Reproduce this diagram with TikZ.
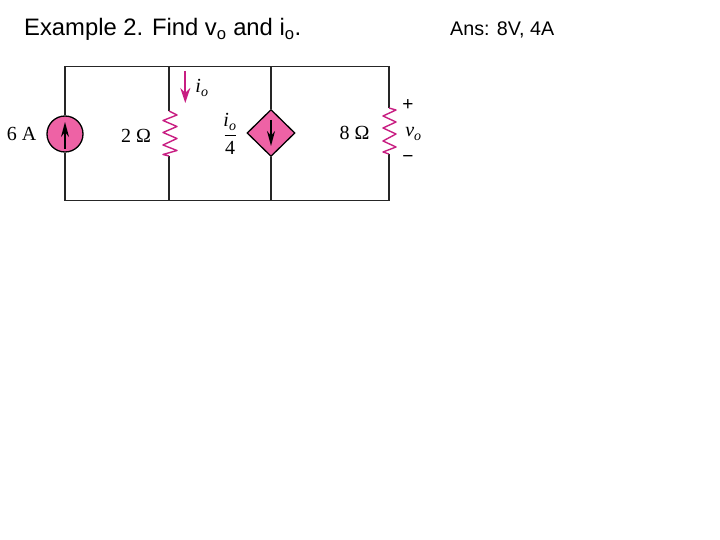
\documentclass[tikz,border=0pt]{standalone}
\usepackage{fontspec}
\setmainfont{Liberation Sans}
\newfontfamily\bookfont{Liberation Serif}
\usetikzlibrary{arrows.meta,shapes.geometric}
\definecolor{srcpink}{RGB}{238,98,165}
\definecolor{respink}{RGB}{200,30,130}
\tikzset{
    wire/.style={line width=1.3pt,black!85},
    res/.style={line width=1.4pt,respink,line join=round},
    src/.style={draw=black,line width=1.3pt,fill=srcpink,inner sep=0pt},
    srcarrow/.style={line width=1.6pt,black,-{Stealth[length=15pt,width=8pt]}},
    lbl/.style={inner sep=0pt,font=\bookfont\fontsize{20}{22}\selectfont},
    sublbl/.style={inner sep=0pt,font=\bookfont\itshape\fontsize{20}{22}\selectfont},
    sign/.style={inner sep=0pt,font=\fontsize{19}{21}\selectfont},
    title/.style={inner sep=0pt,anchor=base west}
}
\begin{document}
\begin{tikzpicture}[x=1pt,y=-1pt]
    \useasboundingbox (0,0) rectangle (720,540);

    \coordinate (TL) at (65, 66.5);
    \coordinate (T2) at (169, 66.5);
    \coordinate (T3) at (271, 66.5);
    \coordinate (TR) at (389, 66.5);
    \coordinate (BL) at (65, 200.5);
    \coordinate (B2) at (169, 200.5);
    \coordinate (B3) at (271, 200.5);
    \coordinate (BR) at (389, 200.5);
    \coordinate (R2top) at (169, 111);
    \coordinate (R2bot) at (169, 156);
    \coordinate (R8top) at (389, 108);
    \coordinate (R8bot) at (389, 154);

    \node[src,circle,minimum size=36pt] (S1) at (65, 134) {};
    \node[src,diamond,minimum width=48pt,minimum height=47pt] (S2) at (271, 133) {};

    \draw[wire] (S1.north) -- (TL) -- (TR) -- (R8top);
    \draw[wire] (R8bot) -- (BR) -- (BL) -- (S1.south);
    \draw[wire] (T2) -- (R2top);
    \draw[wire] (R2bot) -- (B2);
    \draw[wire] (T3) -- (S2.north);
    \draw[wire] (S2.south) -- (B3);

    \draw[res] (R2top) -- ++(8,4) -- ++(-14,5.5) -- ++(14,6) -- ++(-14,6) -- ++(14,6)
        -- ++(-14,6.5) -- ++(14,5.5) -- ++(-14,4) -- (R2bot);
    \draw[res] (R8top) -- ++(7,2) -- ++(-13,6) -- ++(13,6) -- ++(-13,6) -- ++(13,6)
        -- ++(-13,7) -- ++(13,6) -- ++(-13,5) -- (R8bot);

    \draw[srcarrow] (65, 149) -- (65, 122);
    \draw[srcarrow] (271, 120) -- (271, 146);

    \coordinate (Ia) at (185.3, 71);
    \coordinate (Ib) at (185.3, 103);
    \draw[line width=2pt,respink,-{Stealth[length=15pt,width=10pt]}] (Ia) -- (Ib);

    \node[title,font=\fontsize{23.8}{26}\selectfont] (Head) at (24, 36)
        {Example 2. Find v\textsubscript{o} and i\textsubscript{o}.};
    \node[title,font=\fontsize{19.7}{22}\selectfont] (Ans) at (450, 35.5) {Ans: 8V, 4A};

    \node[lbl] (L6A) at (21.5, 134) {6 A};
    \node[lbl] (L2) at (136, 136) {2 Ω};
    \node[lbl] (L8) at (354.5, 133) {8 Ω};
    \node[sublbl] (Lio) at (202, 88) {i\textsubscript{o}};
    \node[sublbl] (Lvo) at (413.5, 134) {v\textsubscript{o}};
    \node[sign] (Lp) at (408, 105) {+};
    \node[sign] (Lm) at (408, 159) {\textminus};

    % fraction beside the dependent source
    \node[sublbl] (Lnum) at (230, 122) {i\textsubscript{o}};
    \node[lbl] (Lden) at (230, 148) {4};
    \coordinate (Fa) at (224.5, 135);
    \coordinate (Fb) at (236, 135);
    \draw[line width=0.8pt] (Fa) -- (Fb);
\end{tikzpicture}
\end{document}
